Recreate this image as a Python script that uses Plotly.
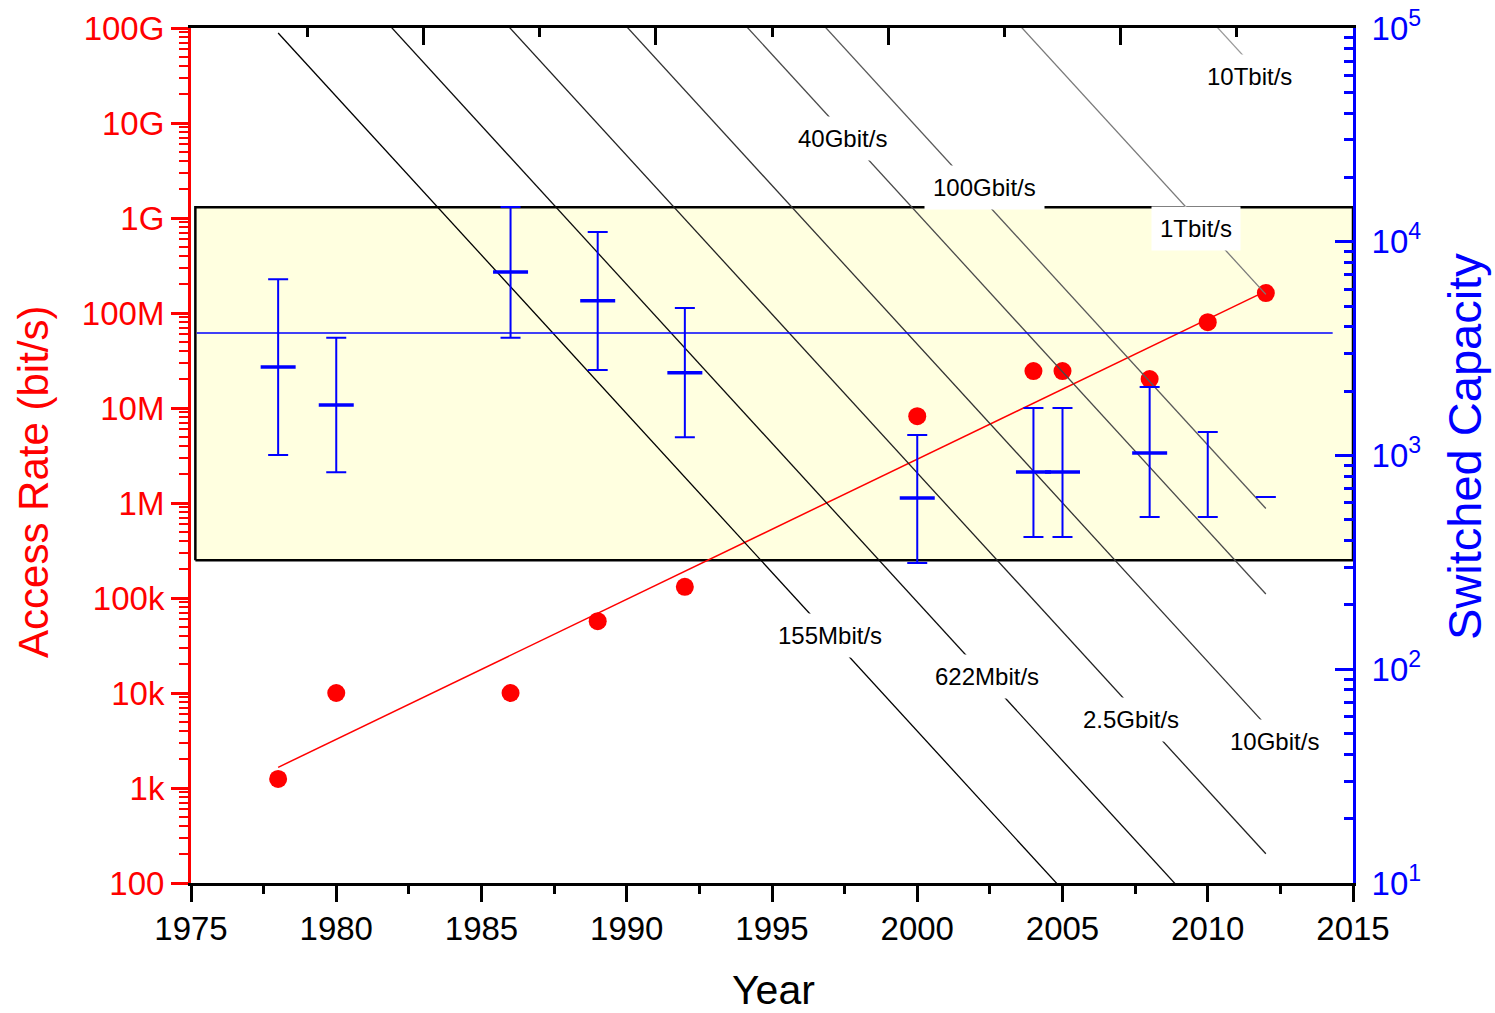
import math
import plotly.graph_objects as go

# ---------------- data ----------------
# Access rate (left axis, bit/s)
rate_years = [1978, 1980, 1986, 1989, 1992, 2000, 2004, 2005, 2008, 2010, 2012]
rate_values = [1245, 10000, 10000, 57000, 131000, 8.2e6, 24.5e6, 24.5e6, 20.2e6, 80e6, 162e6]

trend_years = [1978, 2012]
trend_values = [1650, 1.7e8]

# Switched capacity (right axis)
cap_years = [1978, 1980, 1986, 1989, 1992, 2000, 2004, 2005, 2008, 2010, 2012]
cap_mean = [2594, 1722, 7210, 5297, 2438, 632, 837, 837, 1028, None, None]
cap_mid = [2594, 1722, 7210, 5297, 2438, 632, 837, 837, 1028, 815, 640]
cap_high = [6670, 3557, 14550, 11120, 4898, 1247, 1667, 1667, 2089, 1288, 640]
cap_low = [1005, 834, 3557, 2512, 1216, 314, 416, 416, 515, 515, 640]

cap_avg_years = [1975.2, 2014.3]
cap_avg_values = [3742, 3742]

# highlighted band (left-axis units)
band_years = [1975.15, 2015]
band_rates = [2.5e5, 1.3e9]

# iso-throughput lines (right-axis units)
line_labels = ["155Mbit/s", "622Mbit/s", "2.5Gbit/s", "10Gbit/s",
               "40Gbit/s", "100Gbit/s", "1Tbit/s", "10Tbit/s"]
line_years = [1978, 2012]
line_start = [94800, 382000, 1531000, 6138000, 25180000, 63240000, 635300000, 6.368e9]
line_end = [0.85, 3.41, 13.7, 54.8, 224.9, 564.9, 5675, 56890]
label_years = [1997.0, 2002.4, 2007.36, 2012.31, 1997.41, 2002.3, 2009.6, 2011.42]
label_caps = [144.5, 92.9, 58.5, 45.7, 30270, 18030, 11590, 59570]

x_tickvals = [1975, 1980, 1985, 1990, 1995, 2000, 2005, 2010, 2015]
x_minorvals = [1977.5, 1982.5, 1987.5, 1992.5, 1997.5, 2002.5, 2007.5, 2012.5]
left_tickvals = [1e2, 1e3, 1e4, 1e5, 1e6, 1e7, 1e8, 1e9, 1e10, 1e11]
left_ticktext = ["100", "1k", "10k", "100k", "1M", "10M", "100M", "1G", "10G", "100G"]
right_tickvals = [1e1, 1e2, 1e3, 1e4, 1e5]
right_ticktext = ["10<sup>1</sup>", "10<sup>2</sup>", "10<sup>3</sup>", "10<sup>4</sup>", "10<sup>5</sup>"]

# ---------------- styles ----------------
FONT = "Arial, Liberation Sans, sans-serif"
line_colors = ["#000000", "#0d0d0d", "#222222", "#333333",
               "#4a4a4a", "#5a5a5a", "#7a7a7a", "#9a9a9a"]

left_minor = [d * 10 ** k for k in range(2, 11) for d in range(2, 10)]
right_minor = [d * 10 ** k for k in range(1, 5) for d in range(2, 10)]

fig = go.Figure()

# band
fig.add_trace(go.Scatter(
    x=[band_years[0], band_years[1], band_years[1], band_years[0], band_years[0]],
    y=[band_rates[0], band_rates[0], band_rates[1], band_rates[1], band_rates[0]],
    mode="lines", fill="toself", fillcolor="#FFFFE0",
    line=dict(color="black", width=2.5), hoverinfo="skip", yaxis="y"))

# access rate trend + points
fig.add_trace(go.Scatter(x=trend_years, y=trend_values, mode="lines",
                         line=dict(color="red", width=1.5), yaxis="y"))
fig.add_trace(go.Scatter(x=rate_years, y=rate_values, mode="markers",
                         marker=dict(color="red", size=18), yaxis="y"))

# iso lines
for i in range(len(line_labels)):
    fig.add_trace(go.Scatter(x=line_years, y=[line_start[i], line_end[i]], mode="lines",
                             line=dict(color=line_colors[i], width=1.3), yaxis="y2"))

# average capacity line
fig.add_trace(go.Scatter(x=cap_avg_years, y=cap_avg_values, mode="lines",
                         line=dict(color="blue", width=1.5), yaxis="y2"))

# error bars
fig.add_trace(go.Scatter(
    x=cap_years, y=cap_mid, mode="markers",
    marker=dict(size=1, color="rgba(0,0,0,0)"),
    error_y=dict(type="data", symmetric=False,
                 array=[h - m for h, m in zip(cap_high, cap_mid)],
                 arrayminus=[m - l for m, l in zip(cap_mid, cap_low)],
                 color="blue", thickness=2, width=10),
    yaxis="y2"))
fig.add_trace(go.Scatter(
    x=cap_years, y=cap_mean, mode="markers",
    marker=dict(symbol="line-ew", size=25, color="blue", line=dict(color="blue", width=3.5)),
    yaxis="y2"))

# invisible traces for the extra x axes (top ticks, bottom ticks)
fig.add_trace(go.Scatter(x=[1975, 2015], y=[1e3, 1e3], mode="markers",
                         marker=dict(size=1, color="rgba(0,0,0,0)"),
                         xaxis="x2", yaxis="y", hoverinfo="skip"))
fig.add_trace(go.Scatter(x=[1975, 2015], y=[1e3, 1e3], mode="markers",
                         marker=dict(size=1, color="rgba(0,0,0,0)"),
                         xaxis="x3", yaxis="y", hoverinfo="skip"))

annotations = []
for lab, yr, cp in zip(line_labels, label_years, label_caps):
    annotations.append(dict(x=yr, y=math.log10(cp), xref="x", yref="y2", text=lab,
                            showarrow=False, font=dict(family=FONT, size=24, color="black"),
                            bgcolor="white", borderpad=8, xanchor="center", yanchor="middle"))

annotations += [
    dict(text="Access Rate (bit/s)", x=-0.136, y=0.469, xref="paper", yref="paper",
         textangle=-90, showarrow=False, font=dict(family=FONT, size=42, color="red"),
         xanchor="center", yanchor="middle"),
    dict(text="Switched Capacity", x=1.0964, y=0.51, xref="paper", yref="paper",
         textangle=-90, showarrow=False, font=dict(family=FONT, size=47, color="blue"),
         xanchor="center", yanchor="middle"),
    dict(text="Year", x=0.5009, y=-0.125, xref="paper", yref="paper",
         showarrow=False, font=dict(family=FONT, size=41, color="black"),
         xanchor="center", yanchor="middle"),
]

fig.update_layout(
    width=1495, height=1013,
    margin=dict(l=191, r=142, t=28, b=130, autoexpand=False),
    paper_bgcolor="white", plot_bgcolor="white",
    showlegend=False,
    font=dict(family=FONT),
    annotations=annotations,
    # bottom axis: labels only
    xaxis=dict(range=[1975, 2015], tickmode="array", tickvals=x_tickvals,
               ticks="", showline=True, linecolor="black", linewidth=3,
               showgrid=False, zeroline=False, automargin=False,
               tickfont=dict(family=FONT, size=33, color="black"), ticklabelstandoff=14),
    # bottom axis: tick marks
    xaxis3=dict(range=[1975, 2015], overlaying="x", side="bottom", anchor="y",
                tickmode="array", tickvals=x_tickvals,
                ticks="outside", ticklen=18, tickwidth=2.5, tickcolor="black",
                minor=dict(tickmode="array", tickvals=x_minorvals,
                           ticks="outside", ticklen=10, tickwidth=2.5, tickcolor="black"),
                showticklabels=False, showline=False, showgrid=False, zeroline=False,
                automargin=False),
    # top axis
    xaxis2=dict(range=[1975, 2015], overlaying="x", side="top", anchor="y",
                tickmode="linear", tick0=1975, dtick=8,
                ticks="inside", ticklen=17, tickwidth=2.5, tickcolor="black",
                minor=dict(tick0=1979, dtick=4, ticks="inside", ticklen=9, tickwidth=2.5, tickcolor="black"),
                showticklabels=False, showline=True, linecolor="black", linewidth=3,
                showgrid=False, zeroline=False, automargin=False),
    yaxis=dict(type="log", range=[2, 11], tickmode="array",
               tickvals=left_tickvals, ticktext=left_ticktext,
               ticks="outside", ticklen=17, tickwidth=2.5, tickcolor="red",
               minor=dict(tickmode="array", tickvals=left_minor, ticks="outside",
                          ticklen=9, tickwidth=2, tickcolor="red"),
               showline=True, linecolor="red", linewidth=3, showgrid=False, zeroline=False,
               automargin=False,
               tickfont=dict(family=FONT, size=33, color="red")),
    yaxis2=dict(type="log", range=[1, 5], overlaying="y", side="right", anchor="x",
                tickmode="array", tickvals=right_tickvals, ticktext=right_ticktext,
                ticks="inside", ticklen=18, tickwidth=2.5, tickcolor="blue",
                minor=dict(tickmode="array", tickvals=right_minor, ticks="inside",
                           ticklen=9, tickwidth=2.5, tickcolor="blue"),
                showline=True, linecolor="blue", linewidth=3, showgrid=False, zeroline=False,
                automargin=False,
                tickfont=dict(family=FONT, size=33, color="blue"), ticklabelstandoff=9),
)

fig.write_html("out.html")
